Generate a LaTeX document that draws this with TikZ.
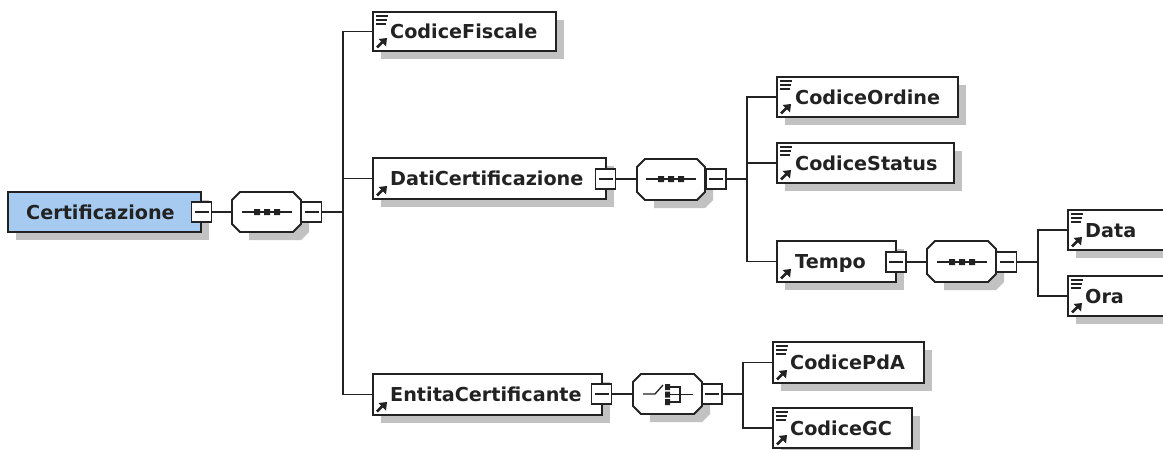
\documentclass[tikz,border=0pt]{standalone}
\usepackage{fontspec}
\setmainfont{DejaVu Sans}
\definecolor{ink}{HTML}{222222}
\definecolor{shade}{HTML}{C2C2C2}
\definecolor{rootblue}{HTML}{A6CAF0}
\tikzset{
  x=1pt,y=-1pt,
  wire/.style={draw=ink,line width=1.9pt},
  shadowfill/.style={fill=shade,draw=none},
  boxline/.style={draw=ink,line width=1.9pt,fill=white},
  thin glyph/.style={draw=ink,line width=1.3pt},
  label/.style={font=\fontsize{19.2}{22}\selectfont\bfseries,text=ink,inner sep=0pt,anchor=base west},
  marker/.style={draw=ink,line width=1.9pt,fill=white,minimum width=20pt,minimum height=20pt,inner sep=0pt},
}
% \elem{name}{x1}{y1}{x2}{y2}{text offset}{text}
\newcommand{\elem}[7]{%
  \fill[shadowfill] (#2+8,#3+8) rectangle (#4+8,#5+8);
  \path[boxline] (#2,#3) rectangle (#4,#5);
  \coordinate (#1) at (#2,{(#3+#5)/2});
  \draw[ink,line width=2.6pt] (#2+4,#5-3.5) -- (#2+10,#5-9.5);
  \fill[ink] (#2+14,#5-13) -- (#2+5.5,#5-12) -- (#2+13,#5-4.5) -- cycle;
  \node[label] (#1t) at (#2+#6,{(#3+#5)/2+7}) {#7};
}
\newcommand{\bars}[3]{%
  \draw[ink,line width=1.3pt] (#1+3,#2+4) -- (#1+15,#2+4) (#1+3,#2+8) -- (#1+14,#2+8) (#1+3,#2+12) -- (#1+13,#2+12);
}
% \octa{name}{x1}{y1}{x2}{y2}
\newcommand{\octa}[5]{%
  \fill[shadowfill] (#2+17,#3+8) -- (#4,#3+8) -- (#4+8,#3+16) -- (#4+8,#5) -- (#4,#5+8) -- (#2+17,#5+8) -- cycle;
  \path[boxline] (#2+8,#3) -- (#4-8,#3) -- (#4,#3+8) -- (#4,#5-8) -- (#4-8,#5) -- (#2+8,#5) -- (#2,#5-8) -- (#2,#3+8) -- cycle;
  \coordinate (#1) at (#2,{(#3+#5)/2});
}
\newcommand{\seqmark}[2]{%
  \draw[thin glyph] (#1-25,#2) -- (#1+25,#2);
  \fill[ink] (#1-13,#2-3) rectangle +(6,6) (#1-3,#2-3) rectangle +(6,6) (#1+7,#2-3) rectangle +(6,6);
}
\newcommand{\minus}[3]{%
  \node[marker] (#1) at (#2,#3) {};
  \draw[thin glyph] (#2-7,#3) -- (#2+7,#3);
}
\begin{document}
\begin{tikzpicture}
\useasboundingbox (0,0) rectangle (1163,450);
\clip (0,0) rectangle (1163,450);
\fill[white] (0,0) rectangle (1163,450);

% buses
\coordinate (bus1) at (343,212);
\coordinate (bus2) at (747,179);
\coordinate (bus3) at (1038,262);
\coordinate (bus4) at (743,394);

% root
\fill[shadowfill] (16,200) rectangle (209,240);
\path[boxline,fill=rootblue] (8,192) rectangle (201,232);
\node[label] (roott) at (26,219) {Certificazione};
\coordinate (root) at (201,212);
\minus{m0}{201.5}{212}

% top group
\octa{o1}{232}{192}{301}{232}
\seqmark{267}{212}
\minus{n1}{311.5}{212}

\elem{fisc}{373}{12}{556}{51}{17}{CodiceFiscale}
\bars{373}{12}{}
\elem{dati}{373}{158}{606}{199}{17}{DatiCertificazione}
\minus{m2}{605.5}{179}
\octa{o2}{637}{159}{705}{200}
\seqmark{671}{179}
\minus{n2}{716}{179}
\elem{enti}{373}{374}{602}{415}{17}{EntitaCertificante}
\minus{m4}{601.5}{394}
\octa{o4}{633}{374}{702}{414}
\draw[thin glyph] (643,394) -- (655,394) -- (663,385);
\fill[ink] (665,384) rectangle (670,390) (665,391.5) rectangle (670,397.5) (665,399) rectangle (670,405);
\draw[thin glyph] (670,387) -- (680,387) -- (680,402) -- (670,402) (670,394.5) -- (693,394.5);
\minus{n4}{712}{394}

\elem{ordine}{777}{77}{958}{117}{18}{CodiceOrdine}
\bars{777}{77}{}
\elem{status}{777}{143}{954}{183}{18}{CodiceStatus}
\bars{777}{143}{}
\elem{tempo}{777}{241}{896}{282}{18}{Tempo}
\minus{m3}{896}{262}
\octa{o3}{927}{241}{996}{282}
\seqmark{962}{262}
\minus{n3}{1006.5}{262}
\elem{data}{1068}{210}{1180}{250}{17}{Data}
\bars{1068}{210}{}
\elem{ora}{1068}{276}{1180}{316}{17}{Ora}
\bars{1068}{276}{}
\elem{pda}{773}{342}{924}{383}{17}{CodicePdA}
\bars{773}{342}{}
\elem{gc}{773}{408}{912}{448}{17}{CodiceGC}
\bars{773}{408}{}

% connectors
\draw[wire] (m0) -- (m0 -| o1);
\draw[wire] (n1) -- (bus1);
\draw[wire] (bus1) |- (fisc);
\draw[wire] (bus1) |- (dati);
\draw[wire] (bus1) |- (enti);
\draw[wire] (m2) -- (m2 -| o2);
\draw[wire] (n2) -- (bus2);
\draw[wire] (bus2) |- (ordine);
\draw[wire] (bus2) |- (status);
\draw[wire] (bus2) |- (tempo);
\draw[wire] (m3) -- (m3 -| o3);
\draw[wire] (n3) -- (bus3);
\draw[wire] (bus3) |- (data);
\draw[wire] (bus3) |- (ora);
\draw[wire] (m4) -- (m4 -| o4);
\draw[wire] (n4) -- (bus4);
\draw[wire] (bus4) |- (pda);
\draw[wire] (bus4) |- (gc);
\end{tikzpicture}
\end{document}
